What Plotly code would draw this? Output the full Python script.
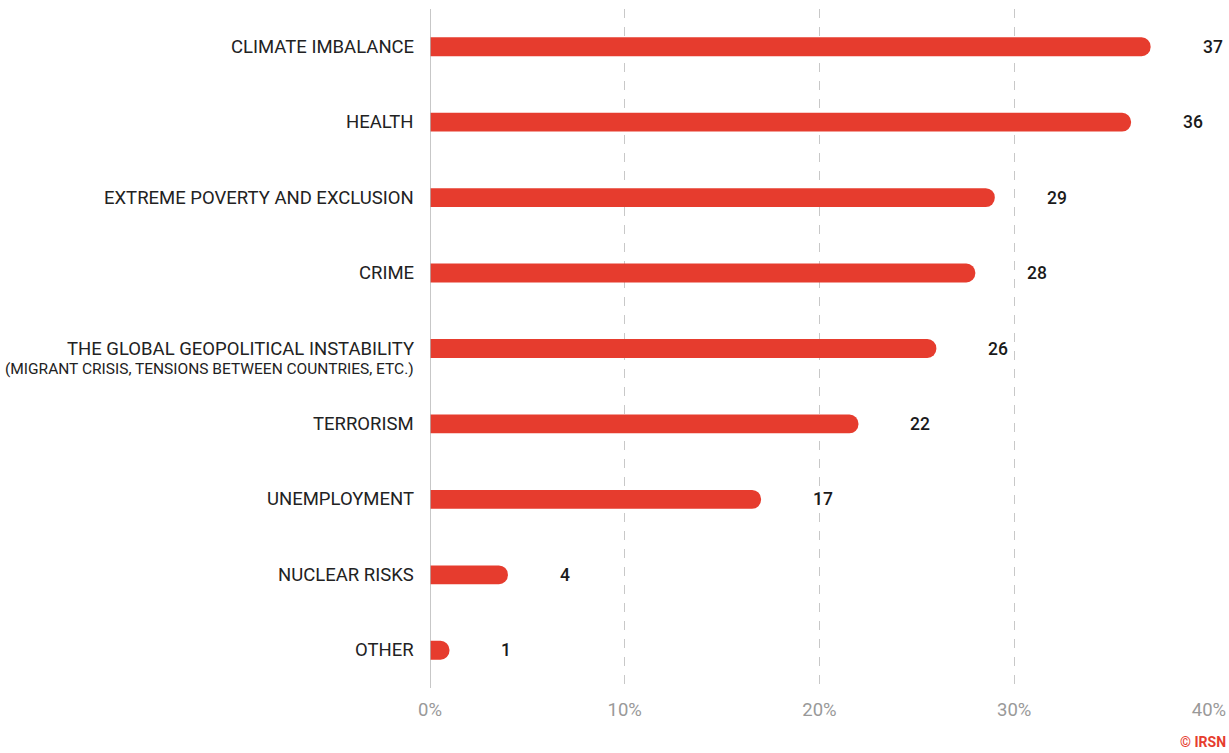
import plotly.graph_objects as go

categories = ["CLIMATE IMBALANCE", "HEALTH", "EXTREME POVERTY AND EXCLUSION", "CRIME",
              "THE GLOBAL GEOPOLITICAL INSTABILITY", "TERRORISM", "UNEMPLOYMENT",
              "NUCLEAR RISKS", "OTHER"]
sublabels = {"THE GLOBAL GEOPOLITICAL INSTABILITY": "(MIGRANT CRISIS, TENSIONS BETWEEN COUNTRIES, ETC.)"}
values = [37, 36, 29, 28, 26, 22, 17, 4, 1]
tick_vals = [0, 10, 20, 30, 40]
tick_text = ["0%", "10%", "20%", "30%", "40%"]

BAR = "#e63c2e"
FONT = "Roboto, Arial, sans-serif"

fig = go.Figure()
fig.add_trace(go.Bar(
    y=categories, x=values, orientation="h",
    marker=dict(color=BAR, cornerradius=10, line=dict(width=0)),
    width=0.25, hoverinfo="skip",
))

annotations = []
for c, v in zip(categories, values):
    annotations.append(dict(x=v, y=c, xref="x", yref="y", text=str(v), showarrow=False,
                            xanchor="left", xshift=50,
                            font=dict(family=FONT, size=17.5, color="#1a1a1a", weight=500)))
    annotations.append(dict(x=0, y=c, xref="paper", yref="y", text=c, showarrow=False,
                            xanchor="right", xshift=-14,
                            font=dict(family=FONT, size=18.5, color="#222222")))
    if c in sublabels:
        annotations.append(dict(x=0, y=c, xref="paper", yref="y", text=sublabels[c],
                                showarrow=False, xanchor="right", xshift=-14, yshift=-20,
                                font=dict(family=FONT, size=15.5, color="#222222")))

annotations.append(dict(x=1, y=0, xref="paper", yref="paper", text="<b>© IRSN</b>",
                        showarrow=False, xanchor="right", yanchor="bottom",
                        xshift=19, yshift=-64,
                        font=dict(family=FONT, size=14, color=BAR)))

fig.update_layout(
    width=1229, height=753,
    margin=dict(l=430, r=20, t=9, b=65, autoexpand=False),
    paper_bgcolor="white", plot_bgcolor="white",
    showlegend=False,
    annotations=annotations,
    xaxis=dict(range=[0, 40], tickvals=tick_vals, ticktext=tick_text,
               showgrid=True, gridcolor="#c8c8c8", griddash="dash", gridwidth=1,
               zeroline=False, showline=False, ticks="", automargin=False,
               tickfont=dict(family=FONT, size=18.5, color="#999999"), ticklabelstandoff=8),
    yaxis=dict(categoryorder="array", categoryarray=categories[::-1],
               range=[-0.5, len(categories) - 0.5], automargin=False,
               showticklabels=False, showgrid=False, zeroline=False,
               showline=False, ticks=""),
    shapes=[dict(type="line", xref="x", yref="paper", x0=0, x1=0, y0=0, y1=1,
                 line=dict(color="#b5b5b5", width=1.5))],
    font=dict(family=FONT),
)

fig.write_html("out.html", config={"displayModeBar": False},
               post_script="document.body.style.margin='0';document.body.style.overflow='hidden';")
